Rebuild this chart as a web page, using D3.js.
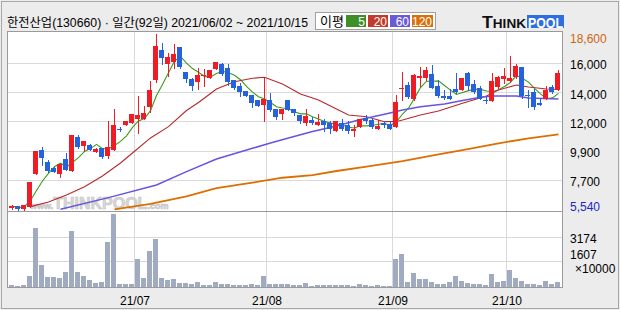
<!DOCTYPE html>
<html>
<head>
<meta charset="utf-8">
<script src="https://cdn.jsdelivr.net/npm/d3@7"></script>
<style>
  body { margin: 0; background: #ececec; }
  svg text { font-family: "Liberation Sans", "Noto Sans CJK KR", sans-serif; }
</style>
</head>
<body>
<svg></svg>
<script>
const width = 620;
const height = 310;

// daily candles 2021/06/02 ~ 2021/10/15 (92 days)
const opens  = [5660,5780,5560,5760,8190,9970,9110,8660,8210,9300,8440,10950,10270,10350,9850,10150,9550,10000,11550,11800,
  12000,12300,12300,13200,15200,17400,16400,16500,17600,15800,15250,15000,15500,15350,16000,16350,16100,15200,14750,14350,
  14050,13700,13350,13700,13000,12650,13700,13050,12600,11950,12200,11800,12100,11950,11400,11950,11800,11400,11700,12350,
  12200,11500,11950,11900,11700,14500,14800,13800,15350,15350,15600,14750,14000,14000,14500,14450,15700,14900,14550,13700,
  13650,14650,15250,15100,15400,16150,14100,14300,13500,13800,14650,14450];
const highs  = [5850,5830,5900,7620,9900,10200,9230,8700,8930,9750,11100,11100,10650,10400,10100,10150,12150,13000,11650,12150,
  12650,14000,13250,15100,18600,17900,17150,17850,17650,15800,15300,16050,16000,15950,16500,16450,16350,15200,14950,14350,
  14050,13700,15300,14200,13000,13050,13700,13050,12600,13050,12450,12650,12300,12150,12150,12300,12100,11850,12300,12600,
  12350,12200,12150,12150,14050,15800,15000,15650,16150,16150,16300,15200,14450,14500,15700,15350,15800,15200,14750,13950,
  15700,15450,16100,17000,16350,16150,14400,14500,13850,14700,14800,15900];
const lows   = [5620,5540,5540,5740,8190,8860,8310,8300,7990,8470,8380,10150,9900,9950,9850,9350,9350,10000,11400,11800,
  12000,11200,12250,12800,15050,16400,15450,16050,16050,15000,14400,14500,14750,15300,16000,15550,14800,14500,14000,14000,
  13200,13250,12100,12900,12300,12300,12950,12550,12000,11850,11900,11800,11400,11200,11400,11450,11200,11050,11700,11950,
  11600,11500,11700,11550,11650,13700,13850,13700,14700,15200,14550,13950,13800,13750,14200,14450,14450,14200,13750,13500,
  13600,14550,14950,15050,15300,13850,13200,13050,13300,13750,14200,14450];
const closes = [5800,5590,5880,7620,9900,9350,8440,8340,8910,8490,11100,10200,10620,9970,10050,9480,10200,11850,11500,12100,
  12650,12550,12750,14450,17700,16800,16900,17100,16150,15250,14750,15550,15550,15950,16500,15600,15000,14600,14300,14000,
  13500,13250,13800,12950,12450,13050,12950,12700,12150,12500,11950,12050,11850,11500,12150,11500,11350,11550,12300,12150,
  11700,11750,11800,11550,13550,14600,13900,15550,15500,15900,14600,14000,13850,13800,14250,15350,14700,14300,13800,13650,
  15100,15400,15500,15350,16200,14000,14050,13200,13300,14400,14300,15700];
// volume, x10000
const volumes = [128,64,128,703,3768,1405,639,639,575,958,3577,958,703,447,277,319,2874,4663,192,192,
  192,1788,575,2299,3066,575,447,511,277,277,213,341,128,128,319,213,213,128,128,128,
  192,128,703,192,192,192,192,128,128,277,64,128,128,128,128,128,128,64,192,128,
  64,128,64,64,1788,2108,319,915,511,511,319,192,192,319,703,383,255,192,192,128,
  830,319,383,1086,575,383,192,192,128,383,192,319];

// first trading day of each month in the window
const monthStarts = [21, 43, 64, 83];
const monthLabels = ["21/07", "21/08", "21/09", "21/10"];

// longer moving averages: [day, value]
const ma20 = [[3,5760],[6,6100],[9,6630],[12,7240],[15,8040],[18,9010],[20,9750],[23,10870],[26,11710],[29,12910],
  [31,13510],[34,14510],[37,15050],[40,15310],[42,15380],[45,14880],[48,14140],[51,13690],[54,13020],[56,12580],
  [59,12450],[62,12080],[64,12090],[65,12200],[68,12580],[71,12870],[75,13450],[79,13990],[81,14440],[84,14810],
  [86,14660],[89,14510],[91,14490]];
const ma60 = [[8,5560],[16,6430],[24,7370],[29,8360],[34,9300],[40,10100],[43,10490],[46,10870],[50,11350],[54,11760],
  [58,12240],[62,12630],[65,12950],[68,13190],[72,13390],[75,13650],[78,13890],[80,13990],[84,13990],[86,13840],[91,13770]];
const ma120 = [[17,5560],[23,5960],[29,6520],[34,7130],[40,7540],[45,7910],[50,8110],[54,8410],[59,8730],[65,9150],
  [71,9640],[75,9970],[81,10470],[86,10840],[91,11140]];

const priceMax = 18600, priceMin = 5540;
const volTicks = [3174, 1607];

const maNames = ["5", "20", "60", "120"];
const maColors = ["#3f8f27", "#c13a2c", "#6a5ad6", "#d9700c"];
const lineColors = ["#3c9a1e", "#b8282a", "#6655dd", "#dd6e00"];
const upColor = "#ee1c25", downColor = "#2463dc";

const svg = d3.select('svg')
  .attr('width', width)
  .attr('height', height);

// panels
const pLeft = 7.5, pRight = 562.5, pTop = 31.5, pMid = 211.5, pBottom = 287.5;

const x = d3.scaleBand()
  .domain(d3.range(closes.length))
  .range([8.5, 560.5])
  .paddingInner(1 / 6)
  .paddingOuter(1 / 12);
const xc = (i) => Math.round(x(i) + x.bandwidth() / 2) + 0.5;

const y = d3.scaleLinear().domain([priceMin, priceMax]).range([209.6, 34]);
const yv = d3.scaleLinear().domain([0, 4790]).range([287, 212]);

// outer frame
svg.append('rect')
  .attr('x', 1.5).attr('y', 1.5)
  .attr('width', width - 3).attr('height', height - 3)
  .attr('fill', '#ececec').attr('stroke', '#a8a8a8');

svg.append('rect')
  .attr('x', pLeft).attr('y', pTop)
  .attr('width', pRight - pLeft).attr('height', pBottom - pTop)
  .attr('fill', '#fff');

// grid
const step = (priceMax - priceMin) / 6;
const priceGrid = d3.range(1, 6).map((k) => priceMin + k * step);
const sig2 = (v) => {
  const p = Math.pow(10, Math.floor(Math.log10(v)) - 1);
  return Math.round(v / p) * p;
};

const grid = svg.append('g')
  .attr('stroke', '#d9d9d9')
  .attr('shape-rendering', 'crispEdges');
grid.selectAll('.hp').data(priceGrid).enter().append('line')
  .attr('x1', pLeft).attr('x2', pRight)
  .attr('y1', (d) => Math.floor(y(d)) + 0.5)
  .attr('y2', (d) => Math.floor(y(d)) + 0.5);
grid.selectAll('.hv').data(volTicks).enter().append('line')
  .attr('x1', pLeft).attr('x2', pRight)
  .attr('y1', (d) => Math.floor(yv(d)) + 0.5)
  .attr('y2', (d) => Math.floor(yv(d)) + 0.5);
grid.selectAll('.vm').data(monthStarts).enter().append('line')
  .attr('x1', (d) => x(d) - 0.5).attr('x2', (d) => x(d) - 0.5)
  .attr('y1', pTop).attr('y2', pBottom);

// watermark
const wm = svg.append('text')
  .attr('x', 30).attr('y', 209)
  .attr('fill', '#d8d8d8').attr('stroke', '#c4c4c4').attr('stroke-width', 0.6)
  .attr('font-weight', 'bold');
wm.append('tspan').attr('font-size', 9).text('www.');
wm.append('tspan').attr('font-size', 16).text('THINKPOOL');
wm.append('tspan').attr('font-size', 9).text('.com');

// moving averages
svg.append('clipPath').attr('id', 'clip')
  .append('rect').attr('x', pLeft).attr('y', pTop).attr('width', pRight - pLeft).attr('height', pMid - pTop);

const ma5 = closes.map((c, i) => [i, d3.mean(closes.slice(Math.max(0, i - 4), i + 1))]);
const line = d3.line().x((d) => xc(d[0])).y((d) => y(d[1]));
const maLines = [ma5, ma20, ma60, ma120];
const maWidths = [1.1, 1.1, 1.5, 1.8];

svg.append('g').attr('clip-path', 'url(#clip)')
  .selectAll('path').data(maLines).enter().append('path')
  .attr('d', line)
  .attr('fill', 'none')
  .attr('stroke', (d, i) => lineColors[i])
  .attr('stroke-width', (d, i) => maWidths[i]);

// candles
const candles = svg.append('g').attr('shape-rendering', 'crispEdges')
  .selectAll('g').data(d3.range(closes.length)).enter().append('g');
const colorOf = (i) => closes[i] >= opens[i] ? upColor : downColor;

candles.append('line')
  .attr('x1', xc).attr('x2', xc)
  .attr('y1', (i) => Math.round(y(highs[i])))
  .attr('y2', (i) => Math.round(y(lows[i])) + 1)
  .attr('stroke', colorOf);
candles.append('rect')
  .attr('x', (i) => Math.round(x(i)))
  .attr('width', x.bandwidth())
  .attr('y', (i) => Math.round(y(Math.max(opens[i], closes[i]))))
  .attr('height', (i) => Math.max(1, Math.round(y(Math.min(opens[i], closes[i]))) - Math.round(y(Math.max(opens[i], closes[i])))))
  .attr('fill', colorOf);

// volume bars
svg.append('g').attr('shape-rendering', 'crispEdges')
  .selectAll('rect').data(volumes).enter().append('rect')
  .attr('x', (d, i) => Math.round(x(i)))
  .attr('width', x.bandwidth())
  .attr('y', (d) => Math.round(yv(d)))
  .attr('height', (d) => 287 - Math.round(yv(d)))
  .attr('fill', '#a0aac0');

// panel borders
const border = svg.append('g').attr('fill', 'none').attr('stroke', '#9a9a9a').attr('shape-rendering', 'crispEdges');
border.append('rect').attr('x', pLeft).attr('y', pTop).attr('width', pRight - pLeft).attr('height', pMid - pTop);
border.append('rect').attr('x', pLeft).attr('y', pMid).attr('width', pRight - pLeft).attr('height', pBottom - pMid);

// right price labels
svg.append('g').attr('font-size', 12).attr('fill', '#000')
  .selectAll('text').data(priceGrid).enter().append('text')
  .attr('x', 570)
  .attr('y', (d) => y(d) + 6)
  .text((d) => d3.format(',')(sig2(d)));
svg.append('text').attr('x', 570).attr('y', 42.6).attr('font-size', 12)
  .attr('fill', '#d0640f').text(d3.format(',')(priceMax));
svg.append('text').attr('x', 570).attr('y', 211).attr('font-size', 12)
  .attr('fill', '#1a28c8').text(d3.format(',')(priceMin));

// volume labels
svg.append('text').attr('x', 570).attr('y', yv(volTicks[0]) + 6).attr('font-size', 12).text(volTicks[0]);
svg.append('text').attr('x', 570).attr('y', yv(volTicks[1]) - 3).attr('font-size', 12).text(volTicks[1]);
svg.append('text').attr('x', 575).attr('y', 272.5).attr('font-size', 12).text('\u00d710000');

// month labels
svg.append('g').attr('font-size', 12).attr('text-anchor', 'middle')
  .selectAll('text').data(monthStarts).enter().append('text')
  .attr('x', (d) => x(d))
  .attr('y', 304.5)
  .text((d, i) => monthLabels[i]);

// title
svg.append('text')
  .attr('x', 7).attr('y', 26.5)
  .attr('font-size', 12)
  .attr('textLength', 301).attr('lengthAdjust', 'spacingAndGlyphs')
  .text('한전산업(130660) · 일간(92일) 2021/06/02 ~ 2021/10/15');

// legend
const lg = svg.append('g');
lg.append('rect').attr('x', 315.5).attr('y', 12.5).attr('width', 120).attr('height', 17)
  .attr('fill', '#fff').attr('stroke', '#a0a0a0');
lg.append('text').attr('x', 320).attr('y', 26).attr('font-size', 13)
  .attr('font-family', '"Noto Sans CJK KR", sans-serif').text('이평');
const boxX = [346, 368, 390, 412];
const boxW = [20, 20, 20, 21];
lg.selectAll('.box').data(maNames).enter().append('rect')
  .attr('x', (d, i) => boxX[i]).attr('y', 15).attr('width', (d, i) => boxW[i]).attr('height', 12)
  .attr('fill', (d, i) => maColors[i]);
lg.selectAll('.lab').data(maNames).enter().append('text')
  .attr('x', (d, i) => boxX[i] + boxW[i] - 1).attr('y', 25.5)
  .attr('text-anchor', 'end').attr('font-size', 12).attr('fill', '#fff')
  .text((d) => d);

// logo
const logo = svg.append('g').attr('font-weight', 'bold');
const think = logo.append('text').attr('x', 482).attr('y', 27.5).attr('fill', '#111')
  .attr('textLength', 44).attr('lengthAdjust', 'spacingAndGlyphs');
think.append('tspan').attr('font-size', 17).text('T');
think.append('tspan').attr('font-size', 13).text('HINK');
logo.append('rect').attr('x', 527).attr('y', 15).attr('width', 37).attr('height', 13).attr('fill', '#2d6ee0');
logo.append('text').attr('x', 528).attr('y', 27.5).attr('fill', '#fff').attr('font-size', 15)
  .attr('textLength', 35).attr('lengthAdjust', 'spacingAndGlyphs').text('POOL');
</script>
</body>
</html>
